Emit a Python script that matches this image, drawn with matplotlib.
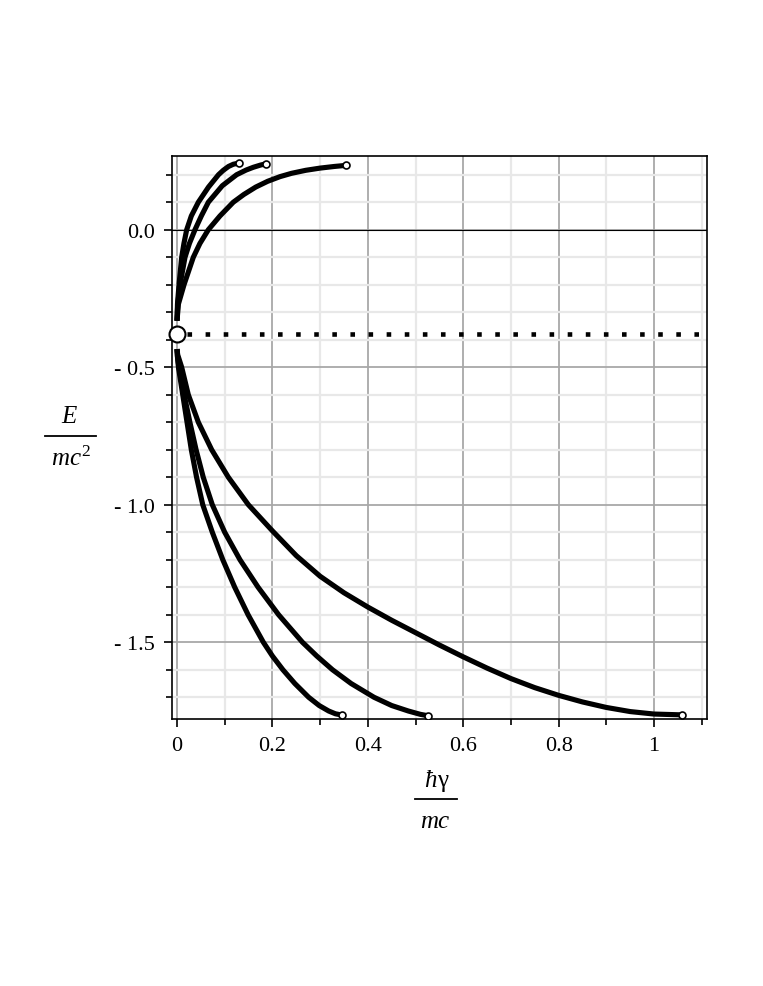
import matplotlib
matplotlib.use("Agg")
from matplotlib import pyplot as plt
from matplotlib.lines import Line2D

plt.rcParams['font.family'] = ['Liberation Serif', 'DejaVu Serif']
plt.rcParams['mathtext.fontset'] = 'custom'
plt.rcParams['mathtext.it'] = 'Liberation Serif:italic'
plt.rcParams['mathtext.rm'] = 'Liberation Serif'

# upper branches
up_a_x = [0, 0.001, 0.0042, 0.0098, 0.0145, 0.0203, 0.03, 0.0447, 0.066,
          0.087, 0.097, 0.108, 0.118, 0.130]
up_a_y = [-0.331, -0.27, -0.2, -0.1, -0.05, 0.0, 0.05, 0.1, 0.155,
          0.2, 0.216, 0.23, 0.238, 0.2425]
up_b_x = [0, 0.0015, 0.0063, 0.0168, 0.026, 0.0377, 0.051, 0.0657, 0.095,
          0.125, 0.145, 0.16, 0.175, 0.187]
up_b_y = [-0.331, -0.27, -0.2, -0.1, -0.05, 0.0, 0.05, 0.1, 0.16,
          0.2, 0.217, 0.227, 0.235, 0.240]
up_c_x = [0, 0.003, 0.0147, 0.0342, 0.048, 0.0657, 0.09, 0.118, 0.14,
          0.165, 0.19, 0.216, 0.24, 0.27, 0.3, 0.33, 0.355]
up_c_y = [-0.331, -0.27, -0.2, -0.1, -0.05, 0.0, 0.05, 0.1, 0.128,
          0.155, 0.176, 0.193, 0.205, 0.216, 0.224, 0.23, 0.234]

# lower branches
lo_d_x = [0, 0.0008, 0.003, 0.012, 0.021, 0.03, 0.041, 0.054, 0.074, 0.096,
          0.121, 0.149, 0.181, 0.200, 0.222, 0.247, 0.276, 0.298, 0.318,
          0.332, 0.3466]
lo_d_y = [-0.434, -0.46, -0.5, -0.6, -0.7, -0.8, -0.9, -1.0, -1.1, -1.2,
          -1.3, -1.4, -1.5, -1.55, -1.6, -1.65, -1.7, -1.73, -1.75,
          -1.76, -1.765]
lo_e_x = [0, 0.001, 0.004, 0.015, 0.027, 0.040, 0.055, 0.074, 0.100, 0.132,
          0.170, 0.213, 0.263, 0.293, 0.326, 0.365, 0.413, 0.45, 0.485,
          0.51, 0.5255]
lo_e_y = [-0.434, -0.46, -0.5, -0.6, -0.7, -0.8, -0.9, -1.0, -1.1, -1.2,
          -1.3, -1.4, -1.5, -1.55, -1.6, -1.65, -1.7, -1.73, -1.75,
          -1.762, -1.767]
lo_f_x = [0, 0.0015, 0.0098, 0.0237, 0.0447, 0.0727, 0.1076, 0.1496, 0.2,
          0.25, 0.3, 0.35, 0.4, 0.45, 0.5, 0.55, 0.6, 0.65, 0.7, 0.75,
          0.8, 0.85, 0.9, 0.95, 1.0, 1.059]
lo_f_y = [-0.434, -0.455, -0.5, -0.6, -0.7, -0.8, -0.9, -1.0, -1.095,
          -1.185, -1.26, -1.32, -1.372, -1.42, -1.465, -1.51, -1.553, -1.594,
          -1.632, -1.665, -1.693, -1.717, -1.737, -1.752, -1.761, -1.764]

# horizontal level and the point at gamma = 0
level_y = -0.379
level_x = [0.021, 1.12]

x_major = [0, 0.2, 0.4, 0.6, 0.8, 1.0]
x_labels = ['0', '0.2', '0.4', '0.6', '0.8', '1']
x_minor = [0.1, 0.3, 0.5, 0.7, 0.9, 1.1]
y_major = [-1.5, -1.0, -0.5, 0.0]
y_labels = ['- 1.5', '- 1.0', '- 0.5', '0.0']
y_minor = [0.2, 0.1, -0.1, -0.2, -0.3, -0.4, -0.6, -0.7, -0.8, -0.9,
           -1.1, -1.2, -1.3, -1.4, -1.6, -1.7]

fig = plt.figure(figsize=(7.63, 9.87), dpi=100)
ax = fig.add_axes([172 / 763, 1 - 720 / 987, 535 / 763, 563 / 987])

ax.set_xlim(-0.0105, 1.111)
ax.set_ylim(-1.779, 0.268)

ax.set_xticks(x_major)
ax.set_xticklabels(x_labels)
ax.set_xticks(x_minor, minor=True)
ax.set_yticks(y_major)
ax.set_yticklabels(y_labels)
ax.set_yticks(y_minor, minor=True)

ax.grid(True, which='major', color='#a8a8a8', lw=1.3, zorder=0)
ax.grid(True, which='minor', color='#e8e8e8', lw=1.6, zorder=0)
ax.set_axisbelow(True)
ax.axhline(0, color='black', lw=0.8, zorder=1)

ax.tick_params(which='major', length=6, width=1.2, labelsize=16, direction='out', pad=6)
ax.tick_params(which='minor', length=4, width=1.2, direction='out')
for s in ax.spines.values():
    s.set_linewidth(1.2)

for xs, ys in [(up_a_x, up_a_y), (up_b_x, up_b_y), (up_c_x, up_c_y),
               (lo_d_x, lo_d_y), (lo_e_x, lo_e_y), (lo_f_x, lo_f_y)]:
    ax.plot(xs, ys, color='black', lw=3.7, solid_capstyle='butt',
            solid_joinstyle='round', zorder=3)
    ax.plot(xs[-1], ys[-1], 'o', ms=5, mfc='white', mec='black', mew=1.2, zorder=4)

ax.plot(level_x, [level_y, level_y], color='black', lw=3.3,
        dashes=(1, 2.95), dash_capstyle='butt', zorder=3)
ax.plot(0, level_y, 'o', ms=11.5, mfc='white', mec='black', mew=1.5, zorder=5,
        clip_on=False)

# axis labels drawn as fractions
fig.text(69 / 763, 1 - 417 / 987, 'E', style='italic', fontsize=18, ha='center', va='center')
fig.add_artist(Line2D([45 / 763, 96 / 763], [1 - 437 / 987, 1 - 437 / 987], color='black', lw=1.3))
fig.text(71 / 763, 1 - 459 / 987, r'$mc^2$', fontsize=18, ha='center', va='center')

fig.text(437 / 763, 1 - 781 / 987, 'ħ', style='italic', fontsize=18, ha='right', va='center')
fig.text(437 / 763, 1 - 781 / 987, 'γ', fontsize=18, ha='left', va='center')
fig.add_artist(Line2D([415 / 763, 457 / 763], [1 - 800 / 987, 1 - 800 / 987], color='black', lw=1.3))
fig.text(435 / 763, 1 - 822 / 987, 'mc', style='italic', fontsize=18, ha='center', va='center')

fig.savefig('out.png', dpi=100)
